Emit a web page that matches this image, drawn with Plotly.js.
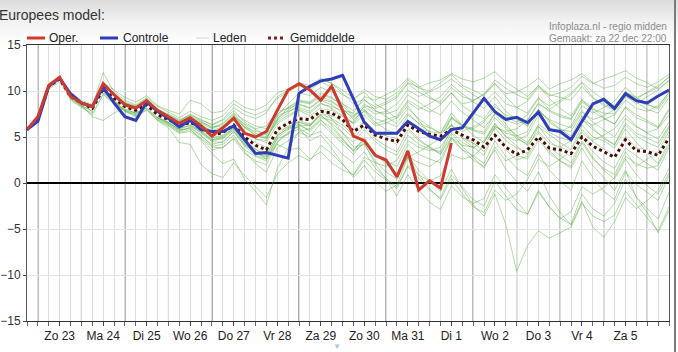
<!DOCTYPE html>
<html><head><meta charset="utf-8">
<script src="https://cdn.plot.ly/plotly-3.0.1.min.js"></script>
<style>
html,body{margin:0;padding:0;}
body{width:678px;height:352px;overflow:hidden;background:linear-gradient(#dcdcdc 0px,#f2f2f2 22px,#ffffff 44px);}
#chart{position:absolute;left:0;top:0;width:678px;height:352px;}
#edge{position:absolute;left:674px;top:0;width:2px;height:352px;background:#7a7a7a;}
</style></head><body>
<div id="chart"></div><div id="edge"></div>
<script>
// ---- time axis: 6-hourly steps from 22 Dec 2012 18:00 ----
const startTime = '2012-12-22T18:00:00Z';
const stepHours = 6;
const nSteps = 60;

const dayLabels = ['Zo 23','Ma 24','Di 25','Wo 26','Do 27','Vr 28','Za 29','Zo 30','Ma 31','Di 1','Wo 2','Do 3','Vr 4','Za 5'];
const dayNoons = ['2012-12-23 12:00','2012-12-24 12:00','2012-12-25 12:00','2012-12-26 12:00','2012-12-27 12:00','2012-12-28 12:00','2012-12-29 12:00','2012-12-30 12:00','2012-12-31 12:00','2013-01-01 12:00','2013-01-02 12:00','2013-01-03 12:00','2013-01-04 12:00','2013-01-05 12:00'];
const dayStarts = ['2012-12-23 00:00','2012-12-24 00:00','2012-12-25 00:00','2012-12-26 00:00','2012-12-27 00:00','2012-12-28 00:00','2012-12-29 00:00','2012-12-30 00:00','2012-12-31 00:00','2013-01-01 00:00','2013-01-02 00:00','2013-01-03 00:00','2013-01-04 00:00','2013-01-05 00:00','2013-01-06 00:00'];

// ---- series (°C) ----
const oper = [5.8,7.2,10.6,11.5,9.4,8.7,8.3,10.8,9.6,8.5,8.15,8.95,7.9,7.2,6.5,7.1,6.2,5.1,6.0,7.05,5.4,5.0,5.6,7.9,10.1,10.8,10.1,9.0,10.5,7.9,5.1,4.6,3.0,2.5,0.65,3.5,-0.76,0.25,-0.55,4.35];
const controle = [5.8,6.7,10.5,11.4,9.7,8.7,8.3,10.4,8.7,7.2,6.8,8.8,7.8,7.0,6.1,6.8,5.8,5.6,5.6,6.2,4.7,3.2,3.3,3.0,2.7,9.75,10.5,11.1,11.3,11.7,9.2,6.6,5.4,5.4,5.4,6.7,5.9,5.1,4.7,5.8,6.0,7.6,9.2,7.75,6.9,7.15,6.55,7.7,5.8,5.6,4.7,6.7,8.6,9.1,8.1,9.7,8.95,8.7,9.45,10.1];
const gemiddelde = [5.8,7.0,10.5,11.3,9.4,8.7,8.1,10.2,9.2,8.3,7.9,8.5,7.4,6.9,6.2,6.6,6.0,5.2,5.5,6.3,5.0,4.1,3.6,5.8,6.5,7.0,6.9,7.8,7.6,6.9,5.6,6.3,5.2,4.8,4.5,6.3,5.6,5.3,5.1,5.8,5.2,4.7,3.9,5.2,3.9,3.1,3.6,5.0,3.8,3.6,3.2,5.0,4.0,3.4,2.8,4.7,3.5,3.4,3.0,4.9];

// ensemble members (Leden), a representative selection read from the plume
const lid01 = [5.9,7.3,10.8,11.6,9.8,9.0,8.5,10.9,10.1,9.3,8.8,9.5,8.4,7.9,7.5,9.0,8.6, 7.6,7.8,9.0,8.2,7.9,8.5,9.8,10.2,10.6,10.1,11.0,10.4,9.6,9.0,10.2, 9.4,9.1,9.8,11.2,10.3,10.0,10.9,11.8,10.6,10.1,9.5,10.8,9.7,9.9,10.5,11.4,10.2,10.8,11.2,11.9,10.9,10.3,10.6,11.5,10.8,10.4,11.0,11.8];
const lid02 = [5.7,6.8,10.2,11.0,9.1,8.3,7.4,9.6,8.6,7.8,7.2,8.0,6.8,6.0,4.4,4.2,2.0, 1.0,0.6,2.2,0.8,-0.4,-1.6,1.0,2.2,3.0,2.4,4.1,3.2,2.0,0.8,2.5, 1.2,0.3,-0.6,1.8,0.5,-0.8,-1.6,0.9,-0.4,-1.8,-2.5,0.2,-1.4,-2.9,-3.4,-0.8,-2.6,-3.8,-4.5,-1.2,-2.8,-3.6,-2.2,0.4,-1.5,-2.8,-3.9,-1.0];
const lid03 = [5.8,7.1,10.6,11.4,9.5,8.8,8.2,10.5,9.5,8.6,8.1,8.9,7.7,7.3,6.6,7.2,6.4, 5.6,5.9,7.1,5.7,4.8,4.6,7.4,8.6,9.8,9.5,10.4,9.9,8.6,7.4,8.0, 6.6,5.8,5.3,7.4,6.5,6.0,5.4,7.2,6.3,5.9,6.6,8.3,7.4,7.0,6.2,8.0,6.8,5.9,5.1,7.3,6.0,4.8,4.2,6.5,5.4,4.9,4.3,6.2];
const lid04 = [5.8,6.9,10.4,11.2,9.2,8.5,7.9,10.0,8.8,7.8,7.4,8.2,7.0,6.4,5.6,6.1,5.2, 4.0,4.2,5.2,3.4,2.1,1.2,3.8,4.6,5.5,5.0,6.5,5.4,4.2,3.1,4.6, 3.0,2.4,1.8,4.2,3.1,2.6,2.2,4.8,3.6,3.0,2.1,4.6,2.9,1.6,0.8,3.2,1.4,0.2,-0.8,2.4,0.6,-0.9,-1.8,1.2,-0.2,-1.0,-1.9,0.8];
const lid05 = [5.9,7.2,10.7,11.5,9.6,8.9,8.4,10.6,9.7,8.8,8.4,9.2,8.0,7.5,6.9,7.4,6.9, 6.3,6.8,7.9,6.6,5.9,6.2,7.8,8.1,8.6,8.2,9.1,8.8,8.0,7.1,8.3, 7.5,7.8,8.6,10.1,9.4,9.9,10.5,11.3,10.4,9.6,8.8,9.9,8.6,8.2,8.9,10.4,9.5,9.8,10.4,11.6,10.8,11.3,11.7,12.2,11.4,10.9,10.2,11.1];
const lid06 = [5.7,6.9,10.3,11.1,9.2,8.4,7.8,9.8,8.9,8.0,7.6,8.3,7.1,6.5,5.7,6.0,5.1, 4.2,4.5,5.6,4.0,3.0,2.6,4.9,5.8,6.4,5.6,6.8,6.0,4.8,3.5,4.9, 3.2,2.0,1.1,3.0,1.4,0.2,-0.9,1.5,-0.6,-2.4,-3.6,-1.2,-4.5,-9.6,-6.8,-5.2,-6.0,-5.4,-4.8,-2.2,-3.6,-4.2,-3.5,-0.9,-2.4,-3.8,-5.2,-2.6];
const lid07 = [5.8,7.0,10.5,11.3,9.3,8.6,8.0,10.3,9.3,8.4,7.9,8.6,7.5,7.0,6.4,6.9,6.3, 5.5,6.0,7.2,6.4,5.8,5.2,7.0,7.9,8.8,8.6,9.4,8.9,8.1,6.9,7.8, 6.4,6.9,7.3,9.0,8.3,7.7,8.5,9.8,8.6,8.9,9.7,10.8,9.4,8.2,7.6,9.3,8.0,8.8,9.6,10.9,9.3,8.4,7.9,9.5,8.6,9.4,10.1,11.2];
const lid08 = [5.8,7.1,10.6,11.4,9.4,8.6,8.0,10.1,9.0,8.1,7.7,8.4,7.2,6.6,5.8,5.9,4.6, 3.2,2.1,2.6,0.4,-0.9,-2.4,1.6,3.8,5.6,5.9,7.1,6.8,6.0,4.9,6.1, 4.8,4.0,3.4,5.8,4.6,3.9,3.2,5.4,4.0,2.8,1.6,3.9,2.4,3.0,3.8,6.1,5.2,4.4,3.6,6.3,5.0,4.6,3.8,5.9,4.4,3.2,2.1,4.6];
const lid09 = [5.9,7.2,10.6,11.5,9.7,8.9,8.3,12.0,9.9,9.0,8.5,9.3,8.3,7.7,7.1,7.8,7.2, 6.8,7.3,8.6,7.8,7.4,7.9,9.2,9.9,10.6,10.4,11.2,10.9,9.8,8.6,9.1, 7.9,7.2,6.5,8.1,7.0,6.1,5.4,7.6,6.3,5.2,4.4,6.5,5.0,4.6,5.2,7.4,6.0,5.5,6.2,8.4,7.6,8.2,8.9,10.4,9.3,8.6,8.0,9.6];
const lid10 = [5.7,6.8,10.3,11.1,9.0,8.2,7.6,9.7,8.7,7.9,7.3,7.9,6.8,6.2,5.4,5.6,4.8, 3.6,3.9,4.8,3.2,2.4,2.0,4.4,5.4,6.2,5.8,6.9,5.6,4.5,3.6,4.7, 3.1,2.2,1.0,2.8,0.9,-0.6,-1.8,0.5,-1.2,-2.6,-3.2,-0.8,-1.9,-1.2,0.4,2.6,1.8,2.6,3.4,5.8,4.6,5.2,5.9,7.4,6.2,5.4,4.8,6.6];
const lid11 = [5.8,7.0,10.4,11.2,9.3,8.7,8.1,10.2,9.1,8.2,7.8,8.5,7.4,6.8,6.1,6.5,5.9, 5.0,5.2,6.0,4.6,3.7,3.0,5.3,6.2,6.6,6.2,7.5,7.0,6.3,5.2,6.4, 5.3,5.0,4.6,6.6,5.6,5.1,4.9,6.4,5.0,4.4,3.4,5.3,3.6,2.5,2.9,4.9,3.2,2.4,1.6,3.8,1.9,0.6,-0.8,1.4,-1.6,-3.2,-5.4,-3.0];
const lid12 = [5.8,7.1,10.5,11.3,9.5,8.8,8.2,10.4,9.4,8.5,8.0,8.7,7.6,7.1,6.4,7.0,6.5, 5.9,6.4,7.5,6.3,5.4,5.0,6.6,7.4,8.0,7.6,8.6,8.3,7.9,7.6,9.4, 9.0,9.6,10.2,11.4,10.6,9.4,8.6,9.8,8.4,7.6,7.0,8.6,7.2,6.6,7.4,9.2,8.4,9.0,9.8,11.0,9.9,9.1,8.4,9.9,8.8,8.0,7.6,9.3];
const lid13 = [5.7,6.9,10.4,11.2,9.3,8.5,7.2,6.8,7.6,8.2,7.7,8.3,7.2,6.7,6.0,6.2,5.5, 4.6,4.8,5.8,4.2,3.2,2.8,4.2,3.6,3.8,2.6,3.4,2.2,1.4,0.9,2.8, 2.2,1.8,2.5,4.6,3.9,3.5,3.9,5.6,4.4,3.8,4.6,6.4,5.1,4.0,3.1,5.2,3.5,2.4,1.8,4.4,2.6,1.6,0.9,3.4,1.8,2.6,3.4,5.6];
const lid14 = [5.8,7.0,10.5,11.3,9.4,8.6,8.0,10.1,9.1,8.3,7.9,8.6,7.5,6.9,6.3,6.7,6.0, 5.3,5.6,6.4,5.2,4.4,3.9,6.0,6.7,7.2,7.1,8.0,7.9,7.2,5.8,6.6, 5.5,5.1,4.8,6.6,5.9,5.6,5.4,6.2,5.6,6.1,6.8,7.9,6.4,5.0,4.1,5.6,4.3,3.9,3.4,5.5,4.5,3.7,3.0,5.1,3.8,3.6,3.2,5.2];
const lid15 = [5.8,7.1,10.5,11.4,9.5,8.7,8.1,10.3,9.2,8.3,7.9,8.6,7.4,6.9,6.2,6.6,5.9, 5.2,5.5,6.3,4.9,4.0,3.5,5.6,6.4,7.0,6.8,7.8,7.4,6.6,5.5,6.7, 5.6,4.9,4.2,6.0,4.8,3.9,3.1,5.0,3.6,2.5,1.8,3.6,1.5,0.2,-0.9,1.2,-1.4,-3.2,-4.6,-2.0,-4.8,-5.9,-4.2,-1.6,-2.8,-1.9,-0.8,1.6];
const lid16 = [5.9,7.2,10.7,11.5,9.6,8.9,8.3,10.5,9.6,8.7,8.3,9.0,7.9,7.4,6.8,7.3,6.7, 6.0,6.5,7.6,6.8,6.2,5.9,7.5,8.2,8.9,8.7,9.6,9.2,8.6,7.9,9.0, 8.3,8.8,9.5,10.9,10.4,10.9,11.2,11.9,11.3,11.0,11.4,12.1,11.0,10.2,9.4,10.6,9.2,8.1,7.3,9.1,7.8,7.0,6.4,8.2,7.1,6.6,6.0,7.9];
const lid17 = [5.8,7.0,10.6,11.3,9.4,8.7,8.1,10.2,9.2,8.3,7.9,8.5,7.3,6.8,6.2,6.8,6.2, 5.6,5.9,6.8,5.5,4.8,4.4,6.4,7.2,7.9,7.3,8.2,7.0,5.4,3.9,4.2, 2.4,1.2,0.4,2.9,2.2,1.8,2.6,4.9,4.1,3.9,4.4,6.2,5.4,5.1,5.6,7.8,6.9,6.4,6.0,7.9,6.6,5.8,5.0,7.0,6.1,5.5,5.9,7.4];
const lid18 = [5.8,7.1,10.5,11.4,9.5,8.8,8.3,10.6,9.5,8.6,8.2,8.9,7.8,7.2,6.5,7.1,6.6, 6.1,6.2,7.4,6.1,5.2,4.9,6.9,8.2,9.0,8.8,9.8,9.3,8.4,7.2,8.6, 7.8,7.5,7.9,9.6,8.8,8.0,7.4,8.9,7.7,6.8,6.0,7.5,6.1,5.2,4.4,6.2,4.6,3.6,2.9,5.0,3.4,2.3,1.6,3.8,2.9,2.1,1.4,3.9];
const lid19 = [5.7,6.9,10.4,11.2,9.2,8.5,7.9,10.0,8.9,8.1,7.6,8.3,7.1,6.6,5.9,6.4,5.6, 4.7,5.0,6.0,4.8,3.9,3.3,5.7,6.1,6.0,5.2,5.6,4.4,3.1,2.2,3.4, 1.6,0.5,-0.4,1.9,0.9,0.2,0.8,3.1,2.6,2.9,4.0,6.1,5.6,5.9,6.8,8.6,7.9,7.4,7.0,9.0,8.2,7.1,6.4,8.3,7.4,6.8,6.1,8.1];
const lid20 = [5.8,7.0,10.5,11.4,9.4,8.7,8.2,10.4,9.3,8.4,8.0,8.8,7.6,7.0,6.3,6.8,6.1, 5.4,5.8,7.0,6.1,5.6,5.4,7.3,7.8,8.2,7.8,8.7,8.1,7.3,6.5,7.9, 7.0,6.6,6.1,7.6,6.4,5.6,5.0,7.1,6.2,5.8,5.5,7.6,6.8,6.4,6.9,8.7,7.8,7.2,6.9,8.8,8.0,7.6,7.5,9.4,8.9,8.5,8.2,9.9];
const lid21 = [5.8,7.0,10.5,11.3,9.3,8.6,8.0,10.2,9.0,8.1,7.6,8.2,7.1,6.5,5.8,6.3,5.4, 4.5,4.4,5.6,4.1,3.4,2.6,4.8,5.3,5.9,4.6,5.2,3.8,2.1,0.6,1.9, 0.2,-0.9,-0.2,2.8,3.4,4.1,4.9,7.0,6.2,5.7,5.3,7.1,5.9,4.8,4.2,6.4,5.5,4.9,4.6,6.9,5.8,5.0,4.1,6.3,5.1,4.4,3.9,6.0];
const lid22 = [5.9,7.1,10.7,11.4,9.6,8.8,8.2,10.6,9.6,8.7,8.2,9.1,7.9,7.3,6.7,7.5,6.8, 6.4,6.9,8.2,7.4,7.0,7.6,9.4,10.1,10.9,10.6,11.4,10.8,10.1,9.2,9.9, 8.6,7.9,7.0,8.4,6.8,5.4,4.5,6.3,4.8,3.9,3.0,5.4,3.9,3.0,2.6,4.6,3.5,3.9,4.6,6.8,6.3,6.9,7.4,9.0,8.1,7.8,8.4,9.8];
const lid23 = [5.8,6.9,10.4,11.2,9.3,8.6,8.0,10.1,9.1,8.2,7.7,8.4,7.3,6.8,6.1,6.5,5.7, 4.9,5.1,6.1,4.5,3.6,3.1,5.2,5.9,6.6,6.3,7.3,6.5,5.5,4.4,5.8, 4.5,3.6,3.0,5.2,4.2,3.7,3.4,5.9,4.9,4.3,3.9,6.0,4.6,3.8,3.3,5.4,3.9,3.0,2.2,4.6,2.8,1.4,0.4,2.6,0.9,-0.3,-1.2,1.1];
const lid24 = [5.7,6.9,10.3,11.2,9.2,8.4,7.8,9.9,8.9,7.9,7.5,8.1,6.9,6.3,5.5,5.8,4.9, 3.9,3.8,4.9,3.6,2.9,2.4,4.5,5.5,6.3,6.2,7.6,7.3,6.9,6.6,8.4, 8.1,8.6,9.3,10.8,9.9,9.2,8.8,10.4,9.4,9.0,9.6,11.2,10.3,9.6,9.1,10.6,9.6,9.3,9.0,10.5,9.2,8.6,8.0,9.9,9.3,9.8,10.4,11.6];
const lid25 = [5.8,7.0,10.5,11.3,9.4,8.6,8.0,10.2,9.2,8.3,7.8,8.6,7.4,6.8,6.0,6.4,5.6, 4.7,4.9,5.9,4.3,3.3,2.9,5.1,6.0,6.8,6.4,7.4,6.3,4.9,3.4,4.3, 2.1,0.4,-1.4,0.9,-0.8,-2.1,-2.9,-0.3,-1.5,-2.2,-1.7,0.9,-0.6,-2.0,-3.4,-1.0,-2.6,-3.9,-3.1,-0.4,-1.2,-0.5,0.6,2.9,2.1,1.6,1.9,4.2];
const lid26 = [5.8,7.1,10.6,11.4,9.5,8.7,8.2,10.4,9.4,8.4,8.0,8.8,7.6,7.0,6.4,6.9,6.2, 5.7,6.1,7.3,6.0,5.2,4.8,6.8,7.7,8.5,8.1,9.0,8.5,7.6,6.4,7.4, 6.2,6.5,7.1,8.8,8.0,8.6,9.4,10.7,9.7,8.8,8.1,9.4,7.8,6.9,6.2,8.0,6.6,5.8,5.6,7.7,6.9,7.3,8.0,9.9,9.1,9.9,10.6,11.5];
const leden = [lid01,lid02,lid03,lid04,lid05,lid06,lid07,lid08,lid09,lid10,lid11,lid12,lid13,lid14,lid15,lid16,lid17,lid18,lid19,lid20,lid21,lid22,lid23,lid24,lid25,lid26];

// ---- build time stamps ----
const t0 = Date.parse(startTime);
const times = [];
for (let i = 0; i < nSteps; i++) {
  const d = new Date(t0 + i * stepHours * 3600000);
  times.push(d.toISOString().slice(0,16).replace('T',' '));
}
const rangeX = [times[0], times[nSteps-1]];

// ---- colours ----
const cOper = '#cf3a2e', cCtrl = '#2f3db8', cLid = 'rgba(70,168,45,0.42)', cMean = '#4a0c04';

const traces = [];
leden.forEach(function(m){
  traces.push({x: times.slice(0, m.length), y: m, type:'scatter', mode:'lines',
    line:{color:cLid, width:1}, hoverinfo:'skip', showlegend:false});
});
traces.push({x: times.slice(0, gemiddelde.length), y: gemiddelde, type:'scatter', mode:'lines',
  line:{color:'#ffffff', width:4}, hoverinfo:'skip', showlegend:false});
traces.push({x: times.slice(0, gemiddelde.length), y: gemiddelde, type:'scatter', mode:'lines',
  line:{color:cMean, width:3, dash:'dot'}, name:'Gemiddelde'});
traces.push({x: times.slice(0, controle.length), y: controle, type:'scatter', mode:'lines',
  line:{color:cCtrl, width:3}, name:'Controle'});
traces.push({x: times.slice(0, oper.length), y: oper, type:'scatter', mode:'lines',
  line:{color:cOper, width:3}, name:'Oper.'});

// ---- pixel helpers for header/legend placement ----
const L = 27, R = 669, T = 45, B = 321;
function px(x){ return (x - L) / (R - L); }
function py(y){ return (B - y) / (B - T); }

// day-boundary grid lines (midnight), between grid and traces
const shapes = dayStarts.map(function(d){
  return {type:'line', xref:'x', yref:'paper', x0:d, x1:d, y0:0, y1:1, layer:'between',
    line:{color:'#4e4e4e', width:1}};
});

const legendY = 38;
shapes.push(
  {type:'line', xref:'paper', yref:'paper', x0:px(27), x1:px(45), y0:py(legendY), y1:py(legendY), line:{color:cOper, width:3}},
  {type:'line', xref:'paper', yref:'paper', x0:px(100), x1:px(118), y0:py(legendY), y1:py(legendY), line:{color:cCtrl, width:3}},
  {type:'line', xref:'paper', yref:'paper', x0:px(196), x1:px(209), y0:py(legendY), y1:py(legendY), line:{color:'#cddccd', width:1}},
  {type:'line', xref:'paper', yref:'paper', x0:px(268), x1:px(284), y0:py(legendY), y1:py(legendY), line:{color:'#8b1a1a', width:3, dash:'dot'}}
);
function txt(text, x, y, anchor, size, color){
  return {text:text, xref:'paper', yref:'paper', x:px(x), y:py(y), xanchor:anchor, yanchor:'middle',
    showarrow:false, font:{family:'Liberation Sans, Arial, sans-serif', size:size, color:color}};
}
const annotations = [
  txt('Europees model:', -3, 15, 'left', 14, '#333333'),
  txt('Oper.', 47, legendY, 'left', 12, '#222222'),
  txt('Controle', 121, legendY, 'left', 12, '#222222'),
  txt('Leden', 211, legendY, 'left', 12, '#222222'),
  txt('Gemiddelde', 288, legendY, 'left', 12, '#222222'),
  txt('Infoplaza.nl - regio midden', 669, 27, 'right', 10, '#8c8c8c'),
  txt('Gemaakt: za 22 dec 22:00', 669, 38, 'right', 10, '#8c8c8c'),
  txt('\u25BC', 337, 346, 'center', 8, '#a8c8ee')
];

const layout = {
  width:678, height:352,
  margin:{l:L, r:678-R, t:T, b:352-B, pad:0},
  paper_bgcolor:'rgba(0,0,0,0)', plot_bgcolor:'#ffffff',
  showlegend:false,
  font:{family:'Liberation Sans, Arial, sans-serif', size:12, color:'#333'},
  xaxis:{type:'date', range:rangeX, tickmode:'array', tickvals:dayNoons, ticktext:dayLabels,
    showgrid:false, ticks:'outside', ticklen:4, tickcolor:'#444', showline:true, linecolor:'#333',
    mirror:true, zeroline:false, tickfont:{size:12, color:'#222'}, fixedrange:true,
    minor:{dtick:stepHours*3600000, tick0:'2012-12-23 00:00', ticks:'outside', ticklen:4, tickcolor:'#666',
      showgrid:true, gridcolor:'#dddddd', gridwidth:1}},
  yaxis:{range:[-15,15], dtick:5, tick0:0, showgrid:true, gridcolor:'#e4e4e4', zeroline:true,
    zerolinecolor:'#000', zerolinewidth:2, ticks:'outside', ticklen:3, tickcolor:'#444', showline:true,
    linecolor:'#555', mirror:true, tickfont:{size:12, color:'#333'}, fixedrange:true},
  shapes:shapes, annotations:annotations
};

Plotly.newPlot('chart', traces, layout, {displayModeBar:false, staticPlot:true});
</script></body></html>
